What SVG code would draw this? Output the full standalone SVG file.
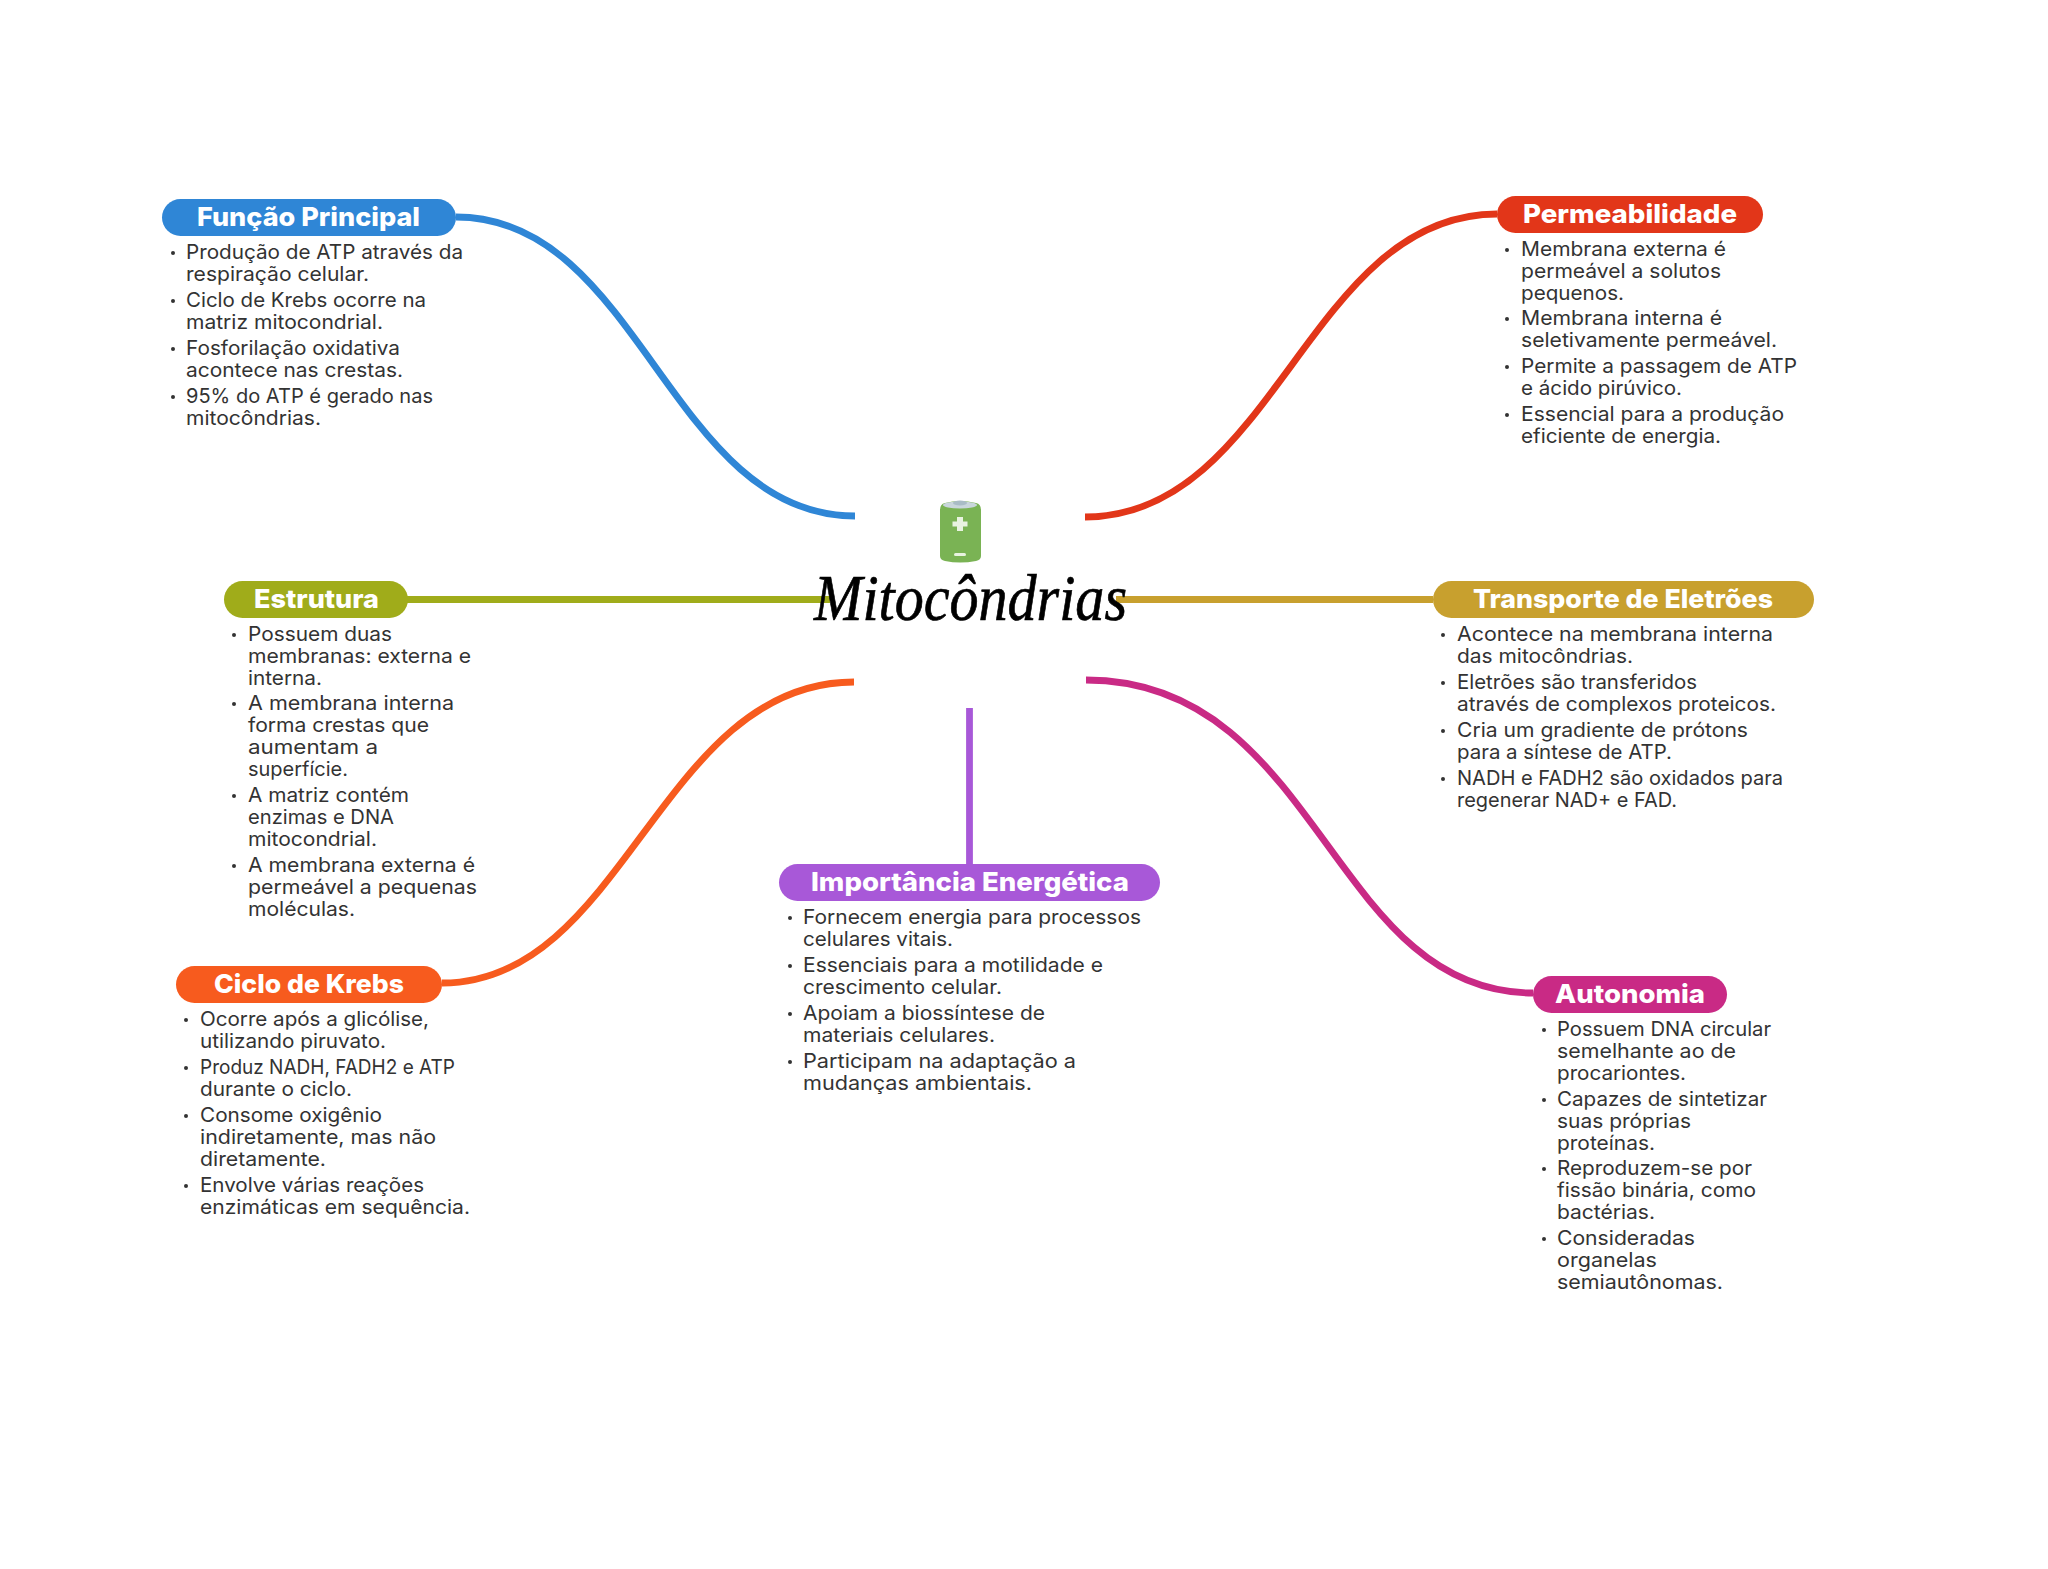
<svg xmlns="http://www.w3.org/2000/svg" width="2048" height="1569" viewBox="0 0 2048 1569">
<style>
.c{fill:none;stroke-width:6.800;stroke-linecap:butt}
.t{font-family:Inter,"Noto Sans","Liberation Sans",sans-serif;font-weight:800;font-size:26px;fill:#fff}
.l{font-family:Inter,"Noto Sans","Liberation Sans",sans-serif;font-weight:400;font-size:20px;fill:#333}
.b{fill:#333}
</style>
<rect width="2048" height="1569" fill="#fff"/>
<g id="connectors">
<path class="c" stroke="#2f86d6" d="M456 217C640 217 670 516 855 516"/>
<path class="c" stroke="#e23619" d="M1497 214C1308 214 1275 517 1085 517"/>
<path class="c" stroke="#a0ac1a" d="M407 599.500H830"/>
<path class="c" stroke="#c8a02e" d="M1116 599.500H1433"/>
<path class="c" stroke="#f75b1e" d="M442 983C625 983 660 682 854 682"/>
<path class="c" stroke="#c92a85" d="M1086 680C1320 680 1330 993 1533 993"/>
<path class="c" stroke="#a858d8" d="M969.500 708V864"/>
</g>
<g id="center">
<path d="M940 510Q940 504 945 503Q960 499 976 503Q981 504 981 510V556Q981 560 976 561Q960 564 945 561Q940 560 940 556Z" fill="#7ab354"/>
<ellipse cx="960" cy="505" rx="17" ry="3.500" fill="#c9d6dc"/>
<ellipse cx="960" cy="503" rx="7" ry="2.500" fill="#a9bcc6"/>
<path d="M957 517h6v4.500h4.500v5h-4.500v4.500h-6v-4.500h-4.500v-5h4.500z" fill="#e8f3e0"/>
<rect x="954" y="553" width="12" height="3" rx="1.500" fill="#e8f3e0"/>
<text x="814" y="620" textLength="313" lengthAdjust="spacingAndGlyphs" font-family="'Liberation Serif',serif" font-style="italic" font-size="66" fill="#000" stroke="#000" stroke-width=".7">Mitocôndrias</text>
</g>
<g id="funcao-principal">
<rect x="162" y="199" width="294" height="37" rx="18.500" fill="#2f86d6"/>
<text class="t" x="197" y="226" textLength="223" lengthAdjust="spacingAndGlyphs">Função Principal</text>
<circle class="b" cx="173" cy="253" r="2"/><circle class="b" cx="173" cy="301" r="2"/><circle class="b" cx="173" cy="349" r="2"/><circle class="b" cx="173" cy="397" r="2"/>
<text class="l" x="186" y="259" textLength="277" lengthAdjust="spacingAndGlyphs">Produção de ATP através da</text>
<text class="l" x="186" y="281" textLength="183" lengthAdjust="spacingAndGlyphs">respiração celular.</text>
<text class="l" x="186" y="307" textLength="240" lengthAdjust="spacingAndGlyphs">Ciclo de Krebs ocorre na</text>
<text class="l" x="186" y="329" textLength="197" lengthAdjust="spacingAndGlyphs">matriz mitocondrial.</text>
<text class="l" x="186" y="355" textLength="214" lengthAdjust="spacingAndGlyphs">Fosforilação oxidativa</text>
<text class="l" x="186" y="377" textLength="217" lengthAdjust="spacingAndGlyphs">acontece nas crestas.</text>
<text class="l" x="186" y="403" textLength="247" lengthAdjust="spacingAndGlyphs">95% do ATP é gerado nas</text>
<text class="l" x="186" y="424.500" textLength="135" lengthAdjust="spacingAndGlyphs">mitocôndrias.</text>
</g>
<g id="permeabilidade">
<rect x="1497" y="196" width="266" height="37" rx="18.500" fill="#e23619"/>
<text class="t" x="1523" y="223" textLength="214" lengthAdjust="spacingAndGlyphs">Permeabilidade</text>
<circle class="b" cx="1507" cy="250" r="2"/><circle class="b" cx="1507" cy="319" r="2"/><circle class="b" cx="1507" cy="367" r="2"/><circle class="b" cx="1507" cy="415" r="2"/>
<text class="l" x="1521" y="256" textLength="205" lengthAdjust="spacingAndGlyphs">Membrana externa é</text>
<text class="l" x="1521" y="278" textLength="200" lengthAdjust="spacingAndGlyphs">permeável a solutos</text>
<text class="l" x="1521" y="300" textLength="103" lengthAdjust="spacingAndGlyphs">pequenos.</text>
<text class="l" x="1521" y="325" textLength="201" lengthAdjust="spacingAndGlyphs">Membrana interna é</text>
<text class="l" x="1521" y="347" textLength="256" lengthAdjust="spacingAndGlyphs">seletivamente permeável.</text>
<text class="l" x="1521" y="373" textLength="276" lengthAdjust="spacingAndGlyphs">Permite a passagem de ATP</text>
<text class="l" x="1521" y="395" textLength="161" lengthAdjust="spacingAndGlyphs">e ácido pirúvico.</text>
<text class="l" x="1521" y="421" textLength="263" lengthAdjust="spacingAndGlyphs">Essencial para a produção</text>
<text class="l" x="1521" y="443" textLength="200" lengthAdjust="spacingAndGlyphs">eficiente de energia.</text>
</g>
<g id="estrutura">
<rect x="224" y="581" width="184" height="37" rx="18.500" fill="#a0ac1a"/>
<text class="t" x="254" y="608" textLength="125" lengthAdjust="spacingAndGlyphs">Estrutura</text>
<circle class="b" cx="234" cy="635" r="2"/><circle class="b" cx="234" cy="704" r="2"/><circle class="b" cx="234" cy="796" r="2"/><circle class="b" cx="234" cy="866" r="2"/>
<text class="l" x="248" y="641" textLength="144" lengthAdjust="spacingAndGlyphs">Possuem duas</text>
<text class="l" x="248" y="663" textLength="223" lengthAdjust="spacingAndGlyphs">membranas: externa e</text>
<text class="l" x="248" y="685" textLength="74" lengthAdjust="spacingAndGlyphs">interna.</text>
<text class="l" x="248" y="710" textLength="206" lengthAdjust="spacingAndGlyphs">A membrana interna</text>
<text class="l" x="248" y="732" textLength="181" lengthAdjust="spacingAndGlyphs">forma crestas que</text>
<text class="l" x="248" y="754" textLength="130" lengthAdjust="spacingAndGlyphs">aumentam a</text>
<text class="l" x="248" y="776" textLength="100" lengthAdjust="spacingAndGlyphs">superfície.</text>
<text class="l" x="248" y="802" textLength="161" lengthAdjust="spacingAndGlyphs">A matriz contém</text>
<text class="l" x="248" y="824" textLength="146" lengthAdjust="spacingAndGlyphs">enzimas e DNA</text>
<text class="l" x="248" y="846" textLength="129" lengthAdjust="spacingAndGlyphs">mitocondrial.</text>
<text class="l" x="248" y="872" textLength="227" lengthAdjust="spacingAndGlyphs">A membrana externa é</text>
<text class="l" x="248" y="894" textLength="229" lengthAdjust="spacingAndGlyphs">permeável a pequenas</text>
<text class="l" x="248" y="916" textLength="107" lengthAdjust="spacingAndGlyphs">moléculas.</text>
</g>
<g id="transporte-de-eletroes">
<rect x="1433" y="581" width="381" height="37" rx="18.500" fill="#c8a02e"/>
<text class="t" x="1473" y="608" textLength="300" lengthAdjust="spacingAndGlyphs">Transporte de Eletrões</text>
<circle class="b" cx="1443" cy="635" r="2"/><circle class="b" cx="1443" cy="683" r="2"/><circle class="b" cx="1443" cy="731" r="2"/><circle class="b" cx="1443" cy="779" r="2"/>
<text class="l" x="1457" y="641" textLength="316" lengthAdjust="spacingAndGlyphs">Acontece na membrana interna</text>
<text class="l" x="1457" y="663" textLength="176" lengthAdjust="spacingAndGlyphs">das mitocôndrias.</text>
<text class="l" x="1457" y="689" textLength="240" lengthAdjust="spacingAndGlyphs">Eletrões são transferidos</text>
<text class="l" x="1457" y="711" textLength="319" lengthAdjust="spacingAndGlyphs">através de complexos proteicos.</text>
<text class="l" x="1457" y="737" textLength="291" lengthAdjust="spacingAndGlyphs">Cria um gradiente de prótons</text>
<text class="l" x="1457" y="759" textLength="215" lengthAdjust="spacingAndGlyphs">para a síntese de ATP.</text>
<text class="l" x="1457" y="785" textLength="326" lengthAdjust="spacingAndGlyphs">NADH e FADH2 são oxidados para</text>
<text class="l" x="1457" y="807" textLength="220" lengthAdjust="spacingAndGlyphs">regenerar NAD+ e FAD.</text>
</g>
<g id="ciclo-de-krebs">
<rect x="176" y="966" width="266" height="37" rx="18.500" fill="#f75b1e"/>
<text class="t" x="214" y="993" textLength="190" lengthAdjust="spacingAndGlyphs">Ciclo de Krebs</text>
<circle class="b" cx="186" cy="1020" r="2"/><circle class="b" cx="186" cy="1068" r="2"/><circle class="b" cx="186" cy="1116" r="2"/><circle class="b" cx="186" cy="1186" r="2"/>
<text class="l" x="200" y="1026" textLength="229" lengthAdjust="spacingAndGlyphs">Ocorre após a glicólise,</text>
<text class="l" x="200" y="1048" textLength="186" lengthAdjust="spacingAndGlyphs">utilizando piruvato.</text>
<text class="l" x="200" y="1074" textLength="255" lengthAdjust="spacingAndGlyphs">Produz NADH, FADH2 e ATP</text>
<text class="l" x="200" y="1096" textLength="152" lengthAdjust="spacingAndGlyphs">durante o ciclo.</text>
<text class="l" x="200" y="1122" textLength="182" lengthAdjust="spacingAndGlyphs">Consome oxigênio</text>
<text class="l" x="200" y="1144" textLength="236" lengthAdjust="spacingAndGlyphs">indiretamente, mas não</text>
<text class="l" x="200" y="1166" textLength="126" lengthAdjust="spacingAndGlyphs">diretamente.</text>
<text class="l" x="200" y="1192" textLength="224" lengthAdjust="spacingAndGlyphs">Envolve várias reações</text>
<text class="l" x="200" y="1214" textLength="270" lengthAdjust="spacingAndGlyphs">enzimáticas em sequência.</text>
</g>
<g id="importancia-energetica">
<rect x="779" y="864" width="381" height="37" rx="18.500" fill="#a858d8"/>
<text class="t" x="811" y="891" textLength="318" lengthAdjust="spacingAndGlyphs">Importância Energética</text>
<circle class="b" cx="790" cy="918" r="2"/><circle class="b" cx="790" cy="966" r="2"/><circle class="b" cx="790" cy="1014" r="2"/><circle class="b" cx="790" cy="1062" r="2"/>
<text class="l" x="803" y="924" textLength="338" lengthAdjust="spacingAndGlyphs">Fornecem energia para processos</text>
<text class="l" x="803" y="946" textLength="150" lengthAdjust="spacingAndGlyphs">celulares vitais.</text>
<text class="l" x="803" y="972" textLength="300" lengthAdjust="spacingAndGlyphs">Essenciais para a motilidade e</text>
<text class="l" x="803" y="994" textLength="199" lengthAdjust="spacingAndGlyphs">crescimento celular.</text>
<text class="l" x="803" y="1020" textLength="242" lengthAdjust="spacingAndGlyphs">Apoiam a biossíntese de</text>
<text class="l" x="803" y="1042" textLength="192" lengthAdjust="spacingAndGlyphs">materiais celulares.</text>
<text class="l" x="803" y="1068" textLength="273" lengthAdjust="spacingAndGlyphs">Participam na adaptação a</text>
<text class="l" x="803" y="1090" textLength="229" lengthAdjust="spacingAndGlyphs">mudanças ambientais.</text>
</g>
<g id="autonomia">
<rect x="1533" y="976" width="194" height="37" rx="18.500" fill="#c92a85"/>
<text class="t" x="1555" y="1003" textLength="150" lengthAdjust="spacingAndGlyphs">Autonomia</text>
<circle class="b" cx="1544" cy="1030" r="2"/><circle class="b" cx="1544" cy="1100" r="2"/><circle class="b" cx="1544" cy="1169" r="2"/><circle class="b" cx="1544" cy="1239" r="2"/>
<text class="l" x="1557" y="1036" textLength="214" lengthAdjust="spacingAndGlyphs">Possuem DNA circular</text>
<text class="l" x="1557" y="1058" textLength="179" lengthAdjust="spacingAndGlyphs">semelhante ao de</text>
<text class="l" x="1557" y="1080" textLength="129" lengthAdjust="spacingAndGlyphs">procariontes.</text>
<text class="l" x="1557" y="1106" textLength="210" lengthAdjust="spacingAndGlyphs">Capazes de sintetizar</text>
<text class="l" x="1557" y="1128" textLength="134" lengthAdjust="spacingAndGlyphs">suas próprias</text>
<text class="l" x="1557" y="1150" textLength="98" lengthAdjust="spacingAndGlyphs">proteínas.</text>
<text class="l" x="1557" y="1175" textLength="195" lengthAdjust="spacingAndGlyphs">Reproduzem-se por</text>
<text class="l" x="1557" y="1197" textLength="199" lengthAdjust="spacingAndGlyphs">fissão binária, como</text>
<text class="l" x="1557" y="1219" textLength="98" lengthAdjust="spacingAndGlyphs">bactérias.</text>
<text class="l" x="1557" y="1245" textLength="138" lengthAdjust="spacingAndGlyphs">Consideradas</text>
<text class="l" x="1557" y="1267" textLength="100" lengthAdjust="spacingAndGlyphs">organelas</text>
<text class="l" x="1557" y="1289" textLength="166" lengthAdjust="spacingAndGlyphs">semiautônomas.</text>
</g>
</svg>
